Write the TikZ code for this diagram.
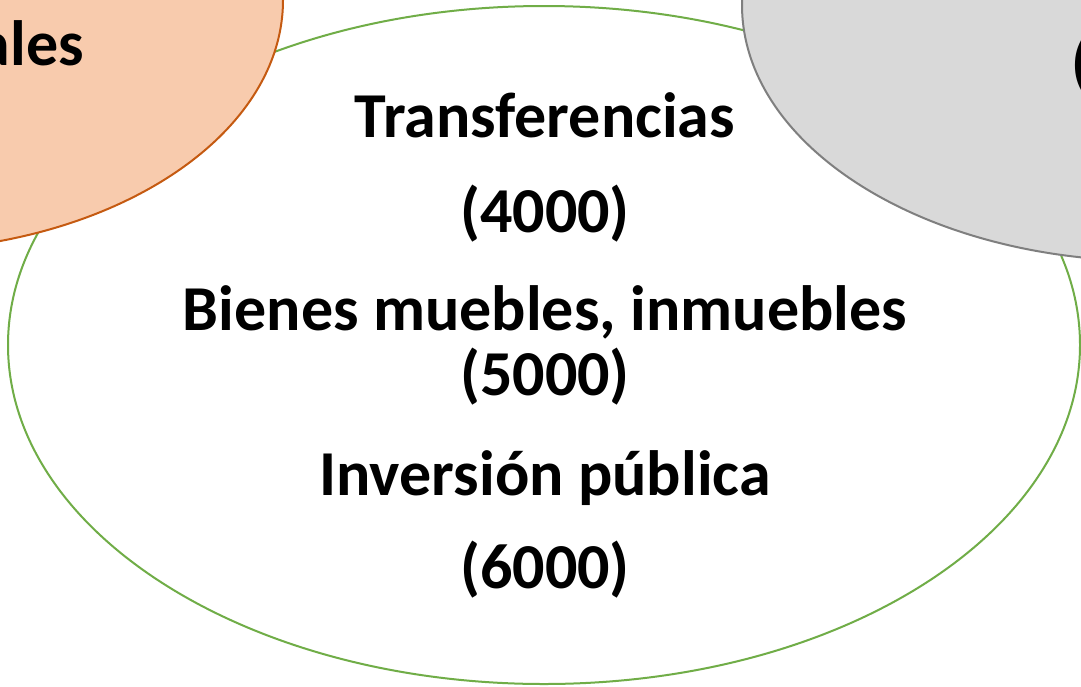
\documentclass[tikz,border=0pt]{standalone}
\usepackage{fontspec}
\setmainfont{Carlito}
\definecolor{greenline}{HTML}{70AD47}
\definecolor{orangefill}{HTML}{F8CBAD}
\definecolor{orangeline}{HTML}{C55A11}
\definecolor{grayfill}{HTML}{D9D9D9}
\definecolor{grayline}{HTML}{7F7F7F}
\tikzset{
  lbl/.style={font=\fontsize{64}{76}\selectfont\bfseries, inner sep=0pt, anchor=base},
  greenell/.style={draw=greenline, fill=white, line width=2pt},
  orangeell/.style={draw=orangeline, fill=orangefill, line width=2pt},
  grayell/.style={draw=grayline, fill=grayfill, line width=2pt}
}
\begin{document}
\begin{tikzpicture}[x=1pt,y=-1pt]
\useasboundingbox (0,0) rectangle (1081,686);
\clip (0,0) rectangle (1081,686);
\fill[white] (0,0) rectangle (1081,686);
\draw[greenell] (544,345) ellipse [x radius=536, y radius=339];
\draw[orangeell] (-110,0) ellipse [x radius=393, y radius=251];
\draw[grayell] (1150,5) ellipse [x radius=408, y radius=256];
\node[lbl, anchor=base east] (ales) at (84,65) {ales};
\node[lbl, anchor=base west] (paren) at (1071,84) {(};
\node[lbl] (t1) at (545,137) {Transferencias};
\node[lbl] (t2) at (545,232) {(4000)};
\node[lbl] (t3) at (545,330) {Bienes muebles, inmuebles};
\node[lbl] (t4) at (545,395) {(5000)};
\node[lbl] (t5) at (545,495) {Inversión pública};
\node[lbl] (t6) at (545,588) {(6000)};
\end{tikzpicture}
\end{document}
